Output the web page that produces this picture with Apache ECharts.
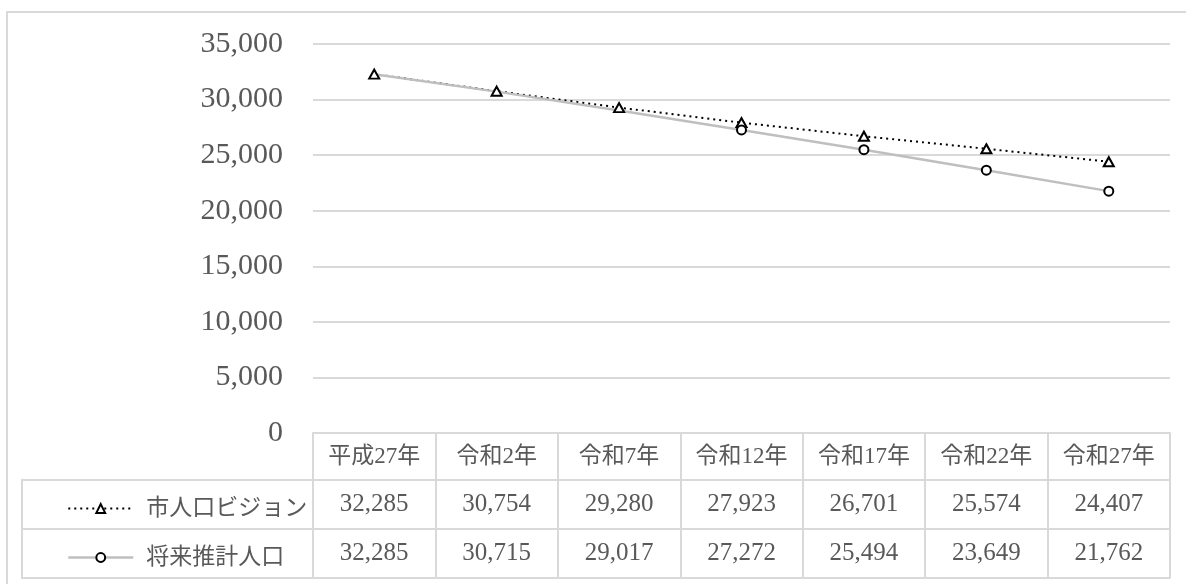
<!DOCTYPE html>
<html>
<head>
<meta charset="utf-8">
<script src="https://cdn.jsdelivr.net/npm/echarts@6/dist/echarts.min.js"></script>
<style>
  html, body { margin: 0; padding: 0; background: #fff; }
  #chart { width: 1186px; height: 584px; }
</style>
</head>
<body>
<div id="chart"></div>
<script>
const categories = ['平成27年', '令和2年', '令和7年', '令和12年', '令和17年', '令和22年', '令和27年'];
const visionName = '市人口ビジョン';
const projectedName = '将来推計人口';
const visionData = [32285, 30754, 29280, 27923, 26701, 25574, 24407];
const projectedData = [32285, 30715, 29017, 27272, 25494, 23649, 21762];

const FONT = "'Liberation Serif', 'Noto Sans CJK JP', serif";
const TEXT = '#595959';
const BORDER = '#d9d9d9';

const fmt = (v) => v.toLocaleString('en-US');

const tableAxis = (offset, values, fontSize) => ({
  type: 'category',
  gridIndex: 0,
  position: 'bottom',
  offset: offset,
  data: categories,
  axisLine: { show: true, lineStyle: { color: BORDER, width: 2 } },
  axisTick: { show: false },
  axisLabel: {
    show: !!values,
    interval: 0,
    margin: 12,
    color: TEXT,
    fontFamily: FONT,
    fontSize: fontSize || 25,
    formatter: (value, idx) => values ? fmt(values[idx]) : ''
  },
  splitLine: { show: false }
});

const chart = echarts.init(document.getElementById('chart'));

const option = {
  animation: false,
  backgroundColor: '#fff',
  grid: { left: 313, right: 16, top: 44, bottom: 151 },
  legend: {
    orient: 'vertical',
    left: 62,
    top: 492,
    itemGap: 26,
    itemWidth: 65,
    itemHeight: 11,
    selectedMode: false,
    data: [
      { name: visionName, lineStyle: { width: 2 } },
      { name: projectedName, lineStyle: { width: 2.5 } }
    ],
    textStyle: { color: TEXT, fontFamily: FONT, fontSize: 23, padding: [0, 0, 0, 8] }
  },
  xAxis: [
    {
      type: 'category',
      position: 'bottom',
      data: categories,
      boundaryGap: true,
      axisLine: { show: true, lineStyle: { color: BORDER, width: 2 } },
      axisTick: { show: true, interval: 0, length: 145, lineStyle: { color: BORDER, width: 2 } },
      axisLabel: { interval: 0, margin: 12, color: TEXT, fontFamily: FONT, fontSize: 23 }
    },
    tableAxis(47, visionData),
    tableAxis(96, projectedData),
    tableAxis(145, null)
  ],
  yAxis: {
    type: 'value',
    min: 0,
    max: 35000,
    interval: 5000,
    axisLine: { show: false },
    axisTick: { show: false },
    axisLabel: {
      margin: 30,
      color: TEXT,
      fontFamily: FONT,
      fontSize: 30,
      formatter: (v) => fmt(v)
    },
    splitLine: { lineStyle: { color: BORDER, width: 2 } }
  },
  series: [
    {
      name: visionName,
      type: 'line',
      xAxisIndex: 0,
      data: visionData,
      symbol: 'triangle',
      symbolSize: [10, 9],
      lineStyle: { color: '#000', width: 2, type: [2, 4] },
      itemStyle: { color: '#fff', borderColor: '#000', borderWidth: 2 }
    },
    {
      name: projectedName,
      type: 'line',
      xAxisIndex: 0,
      // the first three markers are not drawn in the original
      data: projectedData.map((v, i) => i < 3 ? { value: v, symbol: 'none' } : v),
      symbol: 'circle',
      symbolSize: 9,
      lineStyle: { color: '#bfbfbf', width: 2.5 },
      itemStyle: { color: '#fff', borderColor: '#000', borderWidth: 2 }
    }
  ],
  graphic: [
    {
      type: 'rect',
      shape: { x: 7, y: 12, width: 1200, height: 600 },
      style: { fill: 'none', stroke: BORDER, lineWidth: 2 },
      silent: true
    },
    {
      type: 'rect',
      shape: { x: 22, y: 480, width: 291, height: 98 },
      style: { fill: 'none', stroke: BORDER, lineWidth: 2 },
      silent: true
    },
    {
      type: 'line',
      shape: { x1: 22, y1: 529, x2: 313, y2: 529 },
      style: { stroke: BORDER, lineWidth: 2 },
      silent: true
    }
  ]
};

chart.setOption(option);
</script>
</body>
</html>
